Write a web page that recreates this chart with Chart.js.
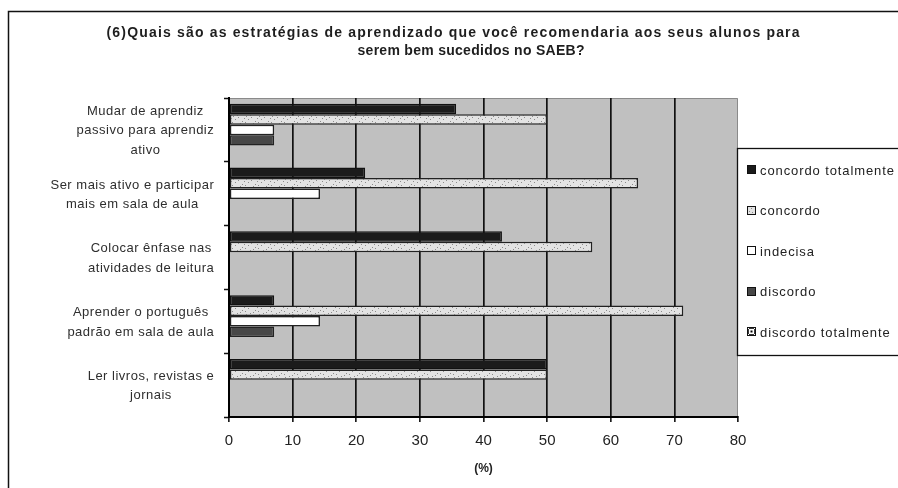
<!DOCTYPE html>
<html>
<head>
<meta charset="utf-8">
<script src="https://cdn.jsdelivr.net/npm/chart.js@4.4.0/dist/chart.umd.min.js"></script>
<style>
  html, body { margin: 0; padding: 0; background: #fff; }
  canvas { display: block; }
</style>
</head>
<body>
<canvas id="chart" width="898" height="488"></canvas>
<script>
// Survey question and answer categories
const titleLines = [
  '(6)Quais são as estratégias de aprendizado que você recomendaria aos seus alunos para',
  'serem bem sucedidos no SAEB?'
];
const categories = [
  ['Mudar de aprendiz', 'passivo para aprendiz', 'ativo'],
  ['Ser mais ativo e participar', 'mais em sala de aula'],
  ['Colocar ênfase nas', 'atividades de leitura'],
  ['Aprender o português', 'padrão em sala de aula'],
  ['Ler livros, revistas e', 'jornais']
];
const seriesNames = ['concordo totalmente', 'concordo', 'indecisa', 'discordo', 'discordo totalmente'];

// Percentages of respondents per answer
const concordoTotalmente = [35.7, 21.4, 42.9, 7.1, 50.0];
const concordo           = [50.0, 64.3, 57.1, 71.4, 50.0];
const indecisa           = [7.1, 14.3, 0, 14.3, 0];
const discordo           = [7.1, 0, 0, 7.1, 0];
const discordoTotalmente = [0, 0, 0, 0, 0];

const xTicks = [0, 10, 20, 30, 40, 50, 60, 70, 80];
const axisTitle = '(%)';

// Speckled fills
function speckle(bg, dot, w, h, pts) {
  const c = document.createElement('canvas');
  c.width = w; c.height = h;
  const g = c.getContext('2d');
  g.fillStyle = bg; g.fillRect(0, 0, w, h);
  g.fillStyle = dot;
  pts.forEach(([x, y]) => g.fillRect(x, y, 1, 1));
  return g.createPattern(c, 'repeat');
}
const lightDots = speckle('#e3e3e3', '#8c8c8c', 13, 9,
  [[1, 2], [6, 6], [10, 1], [3, 7], [8, 4], [12, 8], [4, 0], [11, 5]]);
const darkDots = speckle('#3a3a3a', '#ffffff', 6, 6, [[1, 1], [4, 4]]);

const fills   = ['#1b1b1b', lightDots, '#ffffff', '#474747', darkDots];
const borders = ['#111111', '#222222', '#222222', '#222222', '#111111'];
const values  = [concordoTotalmente, concordo, indecisa, discordo, discordoTotalmente];

const FONT = "'Liberation Sans', Arial, sans-serif";

function spacedText(ctx, text, x, y, align, spacing) {
  ctx.letterSpacing = spacing + 'px';
  let w = ctx.measureText(text).width;
  let sx = x;
  if (align === 'center') sx = x - (w - spacing) / 2;
  else if (align === 'right') sx = x - (w - spacing);
  ctx.textAlign = 'left';
  ctx.fillText(text, sx, y);
  ctx.letterSpacing = '0px';
  return w - spacing;
}

// Outer frame and plot background
const framePlugin = {
  id: 'frame',
  beforeDraw(chart) {
    const { ctx, chartArea: a } = chart;
    ctx.save();
    ctx.fillStyle = '#fff';
    ctx.fillRect(0, 0, chart.width, chart.height);
    ctx.strokeStyle = '#111';
    ctx.lineWidth = 1.5;
    ctx.strokeRect(8.5, 11.5, 1200, 1200);
    ctx.fillStyle = '#c0c0c0';
    ctx.fillRect(a.left, a.top, a.right - a.left, a.bottom - a.top);
    ctx.strokeStyle = '#8a8a8a';
    ctx.lineWidth = 1;
    ctx.beginPath();
    ctx.moveTo(a.left, a.top + 0.5); ctx.lineTo(a.right - 0.5, a.top + 0.5);
    ctx.lineTo(a.right - 0.5, a.bottom);
    ctx.stroke();
    ctx.restore();
  }
};

// Title, category labels and legend
const textPlugin = {
  id: 'texts',
  afterDraw(chart) {
    const { ctx } = chart;
    const yScale = chart.scales.y;
    ctx.save();
    ctx.textBaseline = 'middle';

    // title
    ctx.fillStyle = '#1e1e1e';
    ctx.font = 'bold 14px ' + FONT;
    const titleSpots = [[453, 33, 693], [471, 51, 227]];
    titleLines.forEach((t, i) => {
      const [cx, cy, target] = titleSpots[i];
      ctx.letterSpacing = '0px';
      const w = ctx.measureText(t).width;
      const sp = Math.max(0, (target - w) / (t.length - 1));
      spacedText(ctx, t, cx, cy, 'center', sp);
    });

    // category labels, each block right-aligned with centred lines
    ctx.font = '13px ' + FONT;
    ctx.fillStyle = '#2e2e2e';
    const lineH = 19.5;
    categories.forEach((lines, i) => {
      const yc = yScale.getPixelForValue(i);
      ctx.letterSpacing = '0.5px';
      const bw = Math.max(...lines.map(l => ctx.measureText(l).width));
      const cx = 214 - bw / 2;
      const y0 = yc - (lines.length - 1) * lineH / 2 + 1;
      lines.forEach((l, k) => spacedText(ctx, l, cx, y0 + k * lineH, 'center', 0.5));
    });

    // legend
    const lx = 737, ly = 148, lw = 200, lh = 207;
    ctx.fillStyle = '#fff';
    ctx.fillRect(lx, ly, lw, lh);
    ctx.strokeStyle = '#111';
    ctx.lineWidth = 1.3;
    ctx.strokeRect(lx + 0.5, ly + 0.5, lw, lh);
    ctx.font = '13px ' + FONT;
    chart.data.datasets.forEach((ds, i) => {
      const y = 170 + i * 40.6;
      const mx = 747, my = Math.round(y - 5);
      ctx.fillStyle = ds.backgroundColor;
      ctx.fillRect(mx, my, 9, 9);
      if (i === 4) {
        ctx.fillStyle = '#fff'; ctx.fillRect(mx + 2, my + 2, 5, 5);
        ctx.fillStyle = '#000'; ctx.fillRect(mx + 3.5, my + 3.5, 2, 2);
      }
      ctx.strokeStyle = '#111';
      ctx.lineWidth = 1;
      ctx.strokeRect(mx + 0.5, my + 0.5, 8, 8);
      ctx.fillStyle = '#222';
      spacedText(ctx, ds.label, 760, y + 1, 'left', 0.9);
    });
    ctx.restore();
  }
};

const datasets = seriesNames.map((name, i) => ({
  label: name,
  data: values[i],
  backgroundColor: fills[i],
  borderColor: borders[i],
  borderWidth: c => (c.raw ? 1.5 : 0),
  borderSkipped: false,
  categoryPercentage: 0.82,
  barPercentage: 1.0
}));

new Chart(document.getElementById('chart'), {
  type: 'bar',
  data: { labels: categories.map(l => l.join(' ')), datasets },
  options: {
    indexAxis: 'y',
    responsive: false,
    animation: false,
    devicePixelRatio: 1,
    layout: { padding: { top: 98, right: 160, left: 0, bottom: 0 } },
    plugins: {
      legend: { display: false },
      tooltip: { enabled: false },
      title: { display: false }
    },
    scales: {
      x: {
        min: xTicks[0],
        max: xTicks[xTicks.length - 1],
        afterBuildTicks: s => { s.ticks = xTicks.map(v => ({ value: v })); },
        afterFit: s => { s.height = 71; },
        ticks: {
          color: '#222',
          padding: 10,
          font: { family: FONT, size: 15 }
        },
        grid: {
          color: c => (c.tick && c.tick.value === xTicks[xTicks.length - 1] ? 'rgba(0,0,0,0)' : '#111'),
          lineWidth: 1.7,
          drawTicks: true,
          tickLength: 5,
          tickColor: '#111',
          tickWidth: 1.6
        },
        border: { display: true, color: '#000', width: 2 },
        title: {
          display: true,
          text: axisTitle,
          color: '#222',
          font: { family: FONT, size: 12, weight: 'bold' },
          padding: { top: 0, bottom: 12 }
        }
      },
      y: {
        offset: true,
        afterFit: s => { s.width = 229; },
        ticks: { display: false },
        grid: {
          offset: true,
          drawOnChartArea: false,
          drawTicks: true,
          tickLength: 5,
          tickColor: '#111',
          tickWidth: 1.5
        },
        border: { display: true, color: '#000', width: 2 }
      }
    }
  },
  plugins: [framePlugin, textPlugin]
});
</script>
</body>
</html>
